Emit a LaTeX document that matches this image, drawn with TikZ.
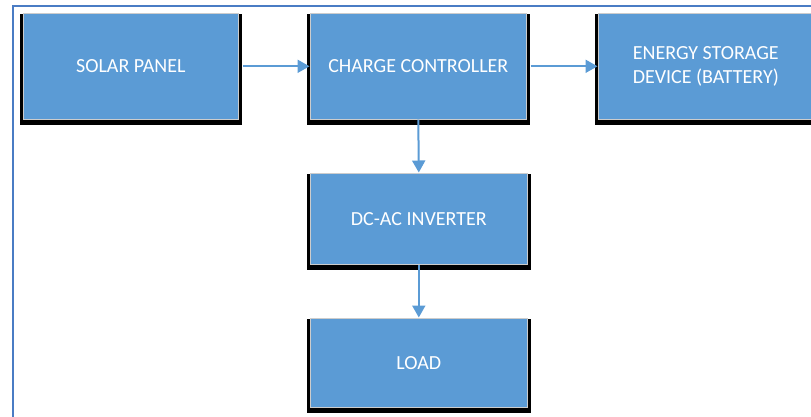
\documentclass[tikz,border=0pt]{standalone}
\usepackage{fontspec}
\setmainfont{Carlito}
\usetikzlibrary{arrows.meta}
\definecolor{boxblue}{HTML}{5B9BD5}
\definecolor{frameblue}{HTML}{4A7CC4}
\tikzset{
  block/.style={fill=boxblue, draw=gray!40, line width=0.6pt,
    text=white, font=\fontsize{20}{24}\selectfont, align=center,
    inner sep=0pt, anchor=north west},
  flow/.style={draw=boxblue, line width=2pt,
    -{Triangle[length=12pt,width=13pt]}, shorten >=0.5pt}
}
% dark drop shadow behind a block: x, y, width, height
\newcommand{\shadowblock}[4]{%
  \fill[black] (#1-3,#2+1) rectangle (#1+#3+4,#2+#4+6);
}
\begin{document}
\begin{tikzpicture}[x=1pt,y=-1pt]
\useasboundingbox (0,0) rectangle (811,416);
\clip (0,0) rectangle (811,416);
% outer frame
\draw[frameblue, line width=2.5pt] (13,430) -- (13,6) -- (830,6);
% drop shadows
\shadowblock{23}{13}{215}{106}
\shadowblock{310}{13}{216}{106}
\shadowblock{598}{13}{215}{106}
\shadowblock{310}{173}{217}{91}
\shadowblock{310}{318}{217}{89}
% blocks
\node[block, minimum width=215pt, minimum height=106pt] (solar) at (23,13) {SOLAR PANEL};
\node[block, minimum width=216pt, minimum height=106pt] (charge) at (310,13) {CHARGE CONTROLLER};
\node[block, minimum width=215pt, minimum height=106pt] (battery) at (598,13) {ENERGY STORAGE\\DEVICE (BATTERY)};
\node[block, minimum width=217pt, minimum height=91pt] (inverter) at (310,173) {DC-AC INVERTER};
\node[block, minimum width=217pt, minimum height=89pt] (load) at (310,318) {LOAD};
% connectors
\draw[flow] (solar.east) ++(4,0) -- (charge.west);
\draw[flow] (charge.east) ++(4,0) -- (battery.west);
\draw[flow] (charge.south) -- (inverter.north);
\draw[flow] (inverter.south) -- (load.north);
\end{tikzpicture}
\end{document}
